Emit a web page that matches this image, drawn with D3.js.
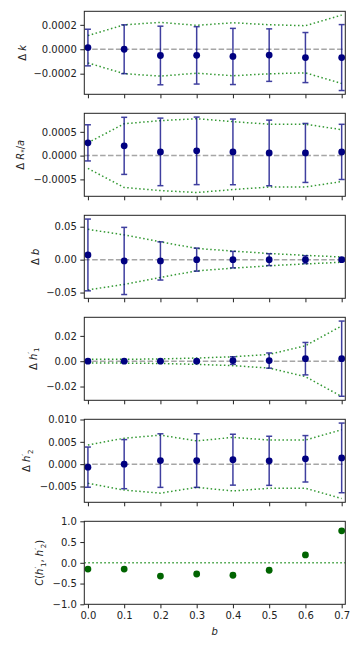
<!DOCTYPE html>
<html>
<head>
<meta charset="utf-8">
<title></title>
<script src="https://cdn.jsdelivr.net/npm/d3@7"></script>
<style>
  body { margin: 0; background: #fff; }
  text { font-family: "DejaVu Sans", sans-serif; fill: #222; }
</style>
</head>
<body>
<div id="chart"></div>
<script>
// b values shared by every panel
var bVals = [0, 0.1, 0.2, 0.3, 0.4, 0.5, 0.6, 0.7];
var bTicks = [0, 0.1, 0.2, 0.3, 0.4, 0.5, 0.6, 0.7];

var dK = [0.000014, 0.0, -0.000051, -0.00005, -0.000059, -0.000048, -0.000068, -0.000068];
var dKErr = [0.00015, 0.0002, 0.00024, 0.000235, 0.00023, 0.000215, 0.000205, 0.00027];
var dKEnv = [0.000112, 0.0002, 0.00022, 0.000196, 0.000217, 0.000201, 0.000193, 0.00028];

var dR = [0.000268, 0.000205, 0.000078, 0.0001, 0.000078, 0.000056, 0.000056, 0.000078];
var dRErr = [0.00038, 0.0006, 0.00071, 0.00071, 0.00069, 0.00069, 0.00062, 0.00058];
var dREnv = [0.00027, 0.00067, 0.000735, 0.000776, 0.000714, 0.00066, 0.00066, 0.000545];

var dB = [0.0071, -0.002, -0.002, 0, 0, 0, 0, 0];
var dBErr = [0.0545, 0.051, 0.029, 0.0175, 0.0125, 0.009, 0.006, 0.0025];
var dBEnv = [0.046, 0.0376, 0.027, 0.017, 0.013, 0.0093, 0.0065, 0.004];

var dH1 = [0, 0, 0, 0, 0.0005, 0.0005, 0.002, 0.002];
var dH1Err = [0.0006, 0.0006, 0.0007, 0.0009, 0.003, 0.006, 0.0128, 0.0297];
var dH1Env = [0.0015, 0.0015, 0.0018, 0.0025, 0.0035, 0.0054, 0.0122, 0.0279];

var dH2 = [-0.00067, 0, 0.0008, 0.0008, 0.001, 0.00075, 0.0012, 0.0014];
var dH2Err = [0.0045, 0.0055, 0.006, 0.006, 0.0057, 0.0055, 0.0052, 0.0078];
var dH2Env = [0.0043, 0.0058, 0.0065, 0.0052, 0.006, 0.0054, 0.0054, 0.0077];

var corrH = [-0.15, -0.15, -0.32, -0.27, -0.30, -0.18, 0.19, 0.77];

var W = 360, H = 648;
var left = 84.3, plotW = 261, top0 = 11.3, step = 102, plotH = 83;
var fs = 10;

var svg = d3.select("#chart").append("svg")
  .attr("width", W).attr("height", H);

var x = d3.scaleLinear().domain([-0.01, 0.71]).range([left, left + plotW]);

var panels = [
  {vals: dK, err: dKErr, env: dKEnv, ticks: [-0.0002, 0, 0.0002], fmt: ".4f", label: [["Δ ", ""], ["k", "i"]]},
  {vals: dR, err: dRErr, env: dREnv, ticks: [-0.0005, 0, 0.0005], fmt: ".4f", label: [["Δ ", ""], ["R", "i"], ["*", "sub"], ["/", ""], ["a", "i"]]},
  {vals: dB, err: dBErr, env: dBEnv, ticks: [-0.05, 0, 0.05], fmt: ".2f", label: [["Δ ", ""], ["b", "i"]]},
  {vals: dH1, err: dH1Err, env: dH1Env, ticks: [-0.02, 0, 0.02], fmt: ".2f", label: [["Δ ", ""], ["h", "i"], ["′", "sup"], ["1", "sub"]]},
  {vals: dH2, err: dH2Err, env: dH2Env, ticks: [-0.005, 0, 0.005, 0.01], fmt: ".3f", label: [["Δ ", ""], ["h", "i"], ["′", "sup"], ["2", "sub"]]},
  {vals: corrH, corr: true, ticks: [-1, -0.5, 0, 0.5, 1], fmt: ".1f", label: [["C", "i"], ["(", ""], ["h", "i"], ["′", "sup"], ["1", "sub"], [", ", ""], ["h", "i"], ["′", "sup"], ["2", "sub"], [")", ""]]}
];

function addRich(t, parts) {
  parts.forEach(function(p){
    var ts = t.append("tspan").text(p[0]);
    if (p[1] === "i") ts.attr("font-style", "italic");
    if (p[1] === "sub") ts.attr("font-size", fs * 0.7).attr("dy", 2.5);
    if (p[1] === "sup") ts.attr("font-size", fs * 0.7).attr("dy", -3.5);
    if (p[1] === "sub" || p[1] === "sup") {
      ts.attr("data-shift", p[1] === "sub" ? -2.5 : 3.5);
    }
  });
  // put the baseline back after a shifted tspan
  var prev = 0;
  t.selectAll("tspan").each(function(){
    var me = d3.select(this);
    var own = me.attr("dy") ? +me.attr("dy") : 0;
    me.attr("dy", own + prev);
    prev = me.attr("data-shift") ? +me.attr("data-shift") : 0;
  });
}

panels.forEach(function(p, i){
  var top = top0 + i * step;
  var g = svg.append("g");
  var y;
  if (p.corr) {
    y = d3.scaleLinear().domain([-1, 1]).range([top + plotH, top]);
  } else {
    var hi = d3.max(bVals, function(d, j){ return Math.max(p.vals[j] + p.err[j], p.env[j]); });
    var lo = d3.min(bVals, function(d, j){ return Math.min(p.vals[j] - p.err[j], -p.env[j]); });
    var pad = (hi - lo) * 0.05;
    y = d3.scaleLinear().domain([lo - pad, hi + pad]).range([top + plotH, top]);
  }

  var clip = "clip" + i;
  svg.append("clipPath").attr("id", clip).append("rect")
    .attr("x", left).attr("y", top).attr("width", plotW).attr("height", plotH);
  var inner = g.append("g").attr("clip-path", "url(#" + clip + ")");

  if (p.corr) {
    inner.append("line")
      .attr("x1", left).attr("x2", left + plotW)
      .attr("y1", y(0)).attr("y2", y(0))
      .style("stroke", "green").style("stroke-width", 1.5)
      .style("stroke-dasharray", "1.5,2.5").style("opacity", 0.8);
    g.selectAll(".pt").data(bVals).enter().append("circle")
      .attr("cx", function(d){ return x(d); })
      .attr("cy", function(d, j){ return y(p.vals[j]); })
      .attr("r", 3.4)
      .style("fill", "darkgreen");
  } else {
    inner.append("line")
      .attr("x1", left).attr("x2", left + plotW)
      .attr("y1", y(0)).attr("y2", y(0))
      .style("stroke", "gray").style("stroke-width", 1.5)
      .style("stroke-dasharray", "5.5,2.4").style("opacity", 0.7);

    [1, -1].forEach(function(s){
      var line = d3.line()
        .x(function(d){ return x(d); })
        .y(function(d, j){ return y(s * p.env[j]); });
      inner.append("path").datum(bVals)
        .attr("d", line)
        .style("fill", "none").style("stroke", "green")
        .style("stroke-width", 1.5).style("stroke-dasharray", "1.5,2.5")
        .style("opacity", 0.8);
    });

    var eb = g.append("g").style("stroke", "navy").style("stroke-width", 1.5).style("opacity", 0.75);
    bVals.forEach(function(d, j){
      var cx = x(d), y1 = y(p.vals[j] + p.err[j]), y2 = y(p.vals[j] - p.err[j]);
      eb.append("line").attr("x1", cx).attr("x2", cx).attr("y1", y1).attr("y2", y2);
      eb.append("line").attr("x1", cx - 3).attr("x2", cx + 3).attr("y1", y1).attr("y2", y1);
      eb.append("line").attr("x1", cx - 3).attr("x2", cx + 3).attr("y1", y2).attr("y2", y2);
    });

    g.selectAll(".pt").data(bVals).enter().append("circle")
      .attr("cx", function(d){ return x(d); })
      .attr("cy", function(d, j){ return y(p.vals[j]); })
      .attr("r", 3.4)
      .style("fill", "navy");
  }

  // frame
  g.append("rect").attr("x", left).attr("y", top).attr("width", plotW).attr("height", plotH)
    .style("fill", "none").style("stroke", "#222").style("stroke-width", 1);

  var yAxis = g.append("g").attr("transform", "translate(" + left + ",0)")
    .call(d3.axisLeft(y).tickValues(p.ticks).tickFormat(d3.format(p.fmt)).tickSize(4).tickPadding(3.5));
  var xAxis = g.append("g").attr("transform", "translate(0," + (top + plotH) + ")")
    .call(d3.axisBottom(x).tickValues(bTicks).tickFormat(i === panels.length - 1 ? d3.format(".1f") : "").tickSize(4).tickPadding(3.5));
  [yAxis, xAxis].forEach(function(a){
    a.select(".domain").remove();
    a.selectAll(".tick line").style("stroke", "#222");
    a.selectAll("text").style("font-size", fs + "px").style("font-family", "DejaVu Sans").style("fill", "#222");
  });

  // y label, placed left of the widest tick label
  var tickLeft = d3.min(yAxis.selectAll("text").nodes(), function(n){
    var bb = n.getBBox(); return left + bb.x;
  });
  var lab = g.append("text").style("font-size", fs + "px").attr("text-anchor", "middle");
  addRich(lab, p.label);
  var bb = lab.node().getBBox();
  var tx = tickLeft - 5 - (bb.y + bb.height);
  lab.attr("transform", "translate(" + tx + "," + (top + plotH / 2) + ") rotate(-90)");
});

svg.append("text")
  .attr("x", left + plotW / 2).attr("y", 635)
  .attr("text-anchor", "middle")
  .style("font-size", fs + "px").style("font-style", "italic")
  .text("b");
</script>
</body>
</html>
